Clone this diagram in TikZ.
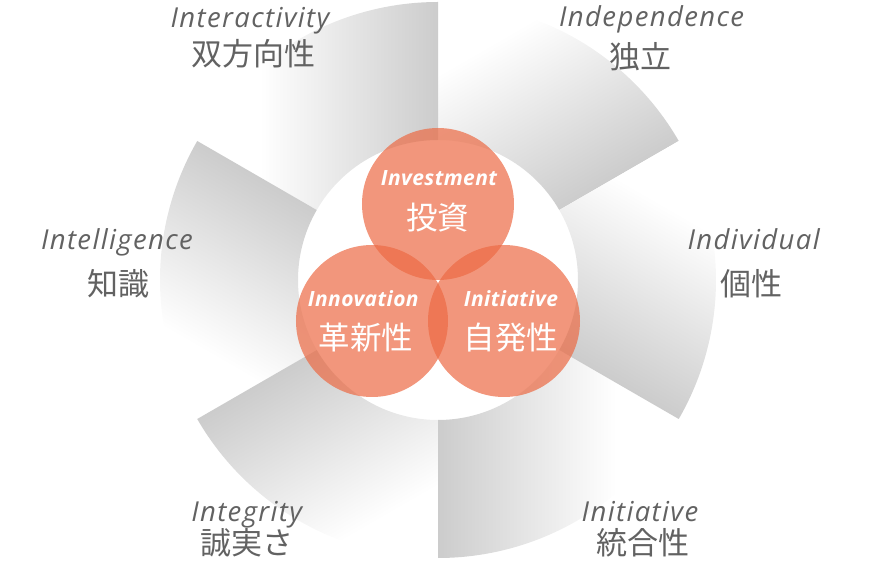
\documentclass[tikz,border=0pt]{standalone}
\usepackage{fontspec}
\setmainfont{Open Sans}
\newfontfamily\cjk{Noto Sans CJK JP}
\newfontfamily\lbl[LetterSpace=5]{Open Sans}
\newfontfamily\inlbl[LetterSpace=2]{Open Sans}
\definecolor{secgray}{HTML}{CCCCCC}
\definecolor{labelgray}{HTML}{626262}
\definecolor{circorange}{RGB}{236,106,68}
\pgfdeclareverticalshading{secfade}{100bp}{color(0bp)=(secgray); color(25bp)=(secgray); color(62bp)=(white); color(100bp)=(white)}
\tikzset{
  outen/.style={font=\lbl\fontsize{27.5}{27.5}\selectfont\itshape, text=labelgray, anchor=base, inner sep=0pt},
  outjp/.style={font=\cjk\fontsize{31}{31}\selectfont, text=labelgray, inner sep=0pt},
  inen/.style={font=\inlbl\fontsize{21}{21}\selectfont\bfseries\itshape, text=white, anchor=base, inner sep=0pt},
  injp/.style={font=\cjk\fontsize{31.5}{31.5}\selectfont, text=white, inner sep=0pt},
  bubble/.style={circle, minimum size=152pt, inner sep=0pt, fill=circorange, fill opacity=0.7},
}
\begin{document}
\begin{tikzpicture}[x=1pt,y=1pt]
\useasboundingbox (-438,-284) rectangle (440,280);
% pinwheel of shaded annular sectors
\foreach \a in {30,90,150,210,270,330}{
  \begin{scope}[transform canvas={rotate=\a}]
    \shade[shading=secfade] (0:140pt) -- (0:278pt) arc[start angle=0,end angle=60,radius=278pt]
      -- (60:140pt) arc[start angle=60,end angle=0,radius=140pt] -- cycle;
  \end{scope}
}
% central circles
\node[bubble] (cinv) at (0,76) {};
\node[bubble] (cinn) at (-66,-41) {};
\node[bubble] (cini) at (66,-41) {};
% circle labels
\node[inen] (tinv) at (1,94.5) {Investment};
\node[injp] (jinv) at (0,62.5) {投資};
\node[inen] (tinn) at (-74.7,-26.7) {Innovation};
\node[injp] (jinn) at (-72,-57.5) {革新性};
\node[inen] (tini) at (73,-26.7) {Initiative};
\node[injp] (jini) at (73,-57.5) {自発性};
% outer labels
\node[outen] (tia) at (-188,252) {Interactivity};
\node[outjp] (jia) at (-184,226.5) {双方向性};
\node[outen] (tid) at (213.7,253) {Independence};
\node[outjp] (jid) at (202,223.3) {独立};
\node[outen] (til) at (-321,30) {Intelligence};
\node[outjp] (jil) at (-319.7,-4) {知識};
\node[outen] (tiv) at (315.7,30) {Individual};
\node[outjp] (jiv) at (313,-4) {個性};
\node[outen] (tig) at (-191.3,-241.7) {Integrity};
\node[outjp] (jig) at (-190.5,-263) {誠実さ};
\node[outen] (tit) at (202,-241.7) {Initiative};
\node[outjp] (jit) at (205.3,-263) {統合性};
\end{tikzpicture}
\end{document}
